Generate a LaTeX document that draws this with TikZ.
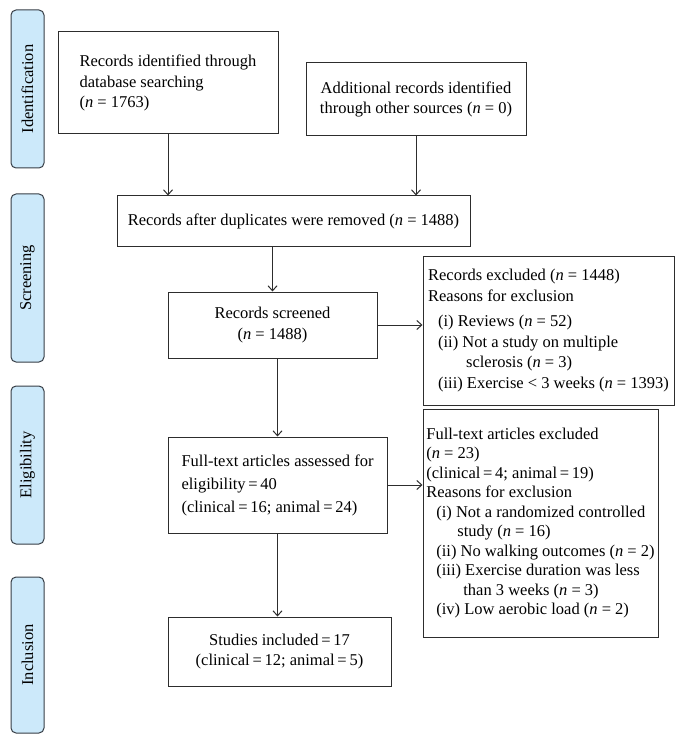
\documentclass[tikz,border=0pt]{standalone}
\usepackage{fontspec}
\setmainfont{Liberation Serif}
\usetikzlibrary{arrows.meta}
\definecolor{stagefill}{RGB}{204,233,250}
\definecolor{stageline}{RGB}{55,62,70}
\definecolor{boxline}{RGB}{45,45,45}
\tikzset{
  stagebox/.style={draw=stageline,fill=stagefill,line width=1pt,rounded corners=5pt,
    rotate=90,minimum height=33pt,inner sep=0pt,font=\fontsize{16.5}{20}\selectfont},
  flowbox/.style={draw=boxline,line width=1pt,inner sep=0pt,align=center,
    font=\fontsize{16.5}{20.5}\selectfont},
  flowarrow/.style={draw=boxline,line width=1pt,-{Straight Barb[length=5pt,width=9pt]}}
}
\begin{document}
\begin{tikzpicture}[x=1pt,y=-1pt]
\path[use as bounding box] (0,0) rectangle (684,743);
% stages on the left
\node[stagebox,minimum width=158pt] (ident) at (27.5,89) {Identification};
\node[stagebox,minimum width=168pt] (screen) at (27.5,278) {Screening};
\node[stagebox,minimum width=158pt] (elig) at (27.5,465) {Eligibility};
\node[stagebox,minimum width=156pt] (incl) at (27.5,655) {Inclusion};
% flow boxes
\node[flowbox,align=left,minimum width=220pt,minimum height=102pt] (dbsearch) at (168,83)
  {Records identified through\\database searching\\(\textit{n} = 1763)};
\node[flowbox,minimum width=220pt,minimum height=73pt] (othersrc) at (416,99.5)
  {Additional records identified\\through other sources (\textit{n} = 0)};
\node[flowbox,minimum width=353pt,minimum height=50pt] (dedup) at (293.5,221)
  {Records after duplicates were removed (\textit{n} = 1488)};
\node[flowbox,minimum width=209pt,minimum height=66pt] (screened) at (272.5,325)
  {Records screened\\(\textit{n} = 1488)};
\node[flowbox,align=left,minimum width=251pt,minimum height=149pt] (excluded) at (548.5,330.5)
  {Records excluded (\textit{n} = 1448)\\
   Reasons for exclusion\\[5pt]
   \hspace*{10pt}(i) Reviews (\textit{n} = 52)\\
   \hspace*{10pt}(ii) Not a study on multiple\\
   \hspace*{38pt}sclerosis (\textit{n} = 3)\\
   \hspace*{10pt}(iii) Exercise < 3 weeks (\textit{n} = 1393)};
\node[flowbox,align=left,minimum width=219pt,minimum height=96pt,
  font=\fontsize{16.5}{23}\selectfont] (assessed) at (277.5,485)
  {Full-text articles assessed for\\eligibility\,=\,40\\(clinical\,=\,16; animal\,=\,24)};
\node[flowbox,align=left,minimum width=235pt,minimum height=228pt,
  font=\fontsize{16.5}{19.5}\selectfont] (ftexcl) at (540.5,523)
  {Full-text articles excluded\\
   (\textit{n} = 23)\\
   (clinical\,=\,4; animal\,=\,19)\\
   Reasons for exclusion\\
   \hspace*{10pt}(i) Not a randomized controlled\\
   \hspace*{31pt}study (\textit{n} = 16)\\
   \hspace*{10pt}(ii) No walking outcomes (\textit{n} = 2)\\
   \hspace*{10pt}(iii) Exercise duration was less\\
   \hspace*{37pt}than 3 weeks (\textit{n} = 3)\\
   \hspace*{10pt}(iv) Low aerobic load (\textit{n} = 2)};
\node[flowbox,minimum width=223pt,minimum height=69pt] (included) at (279.5,651.5)
  {Studies included\,=\,17\\(clinical\,=\,12; animal\,=\,5)};
% connectors
\draw[flowarrow] (dbsearch.south) -- (dbsearch.south |- dedup.north);
\draw[flowarrow] (othersrc.south) -- (othersrc.south |- dedup.north);
\draw[flowarrow] (screened.north |- dedup.south) -- (screened.north);
\draw[flowarrow] (screened.east) -- (screened.east -| excluded.west);
\draw[flowarrow] (assessed.north |- screened.south) -- (assessed.north);
\draw[flowarrow] (assessed.east) -- (assessed.east -| ftexcl.west);
\draw[flowarrow] (assessed.south) -- (assessed.south |- included.north);
\end{tikzpicture}
\end{document}
